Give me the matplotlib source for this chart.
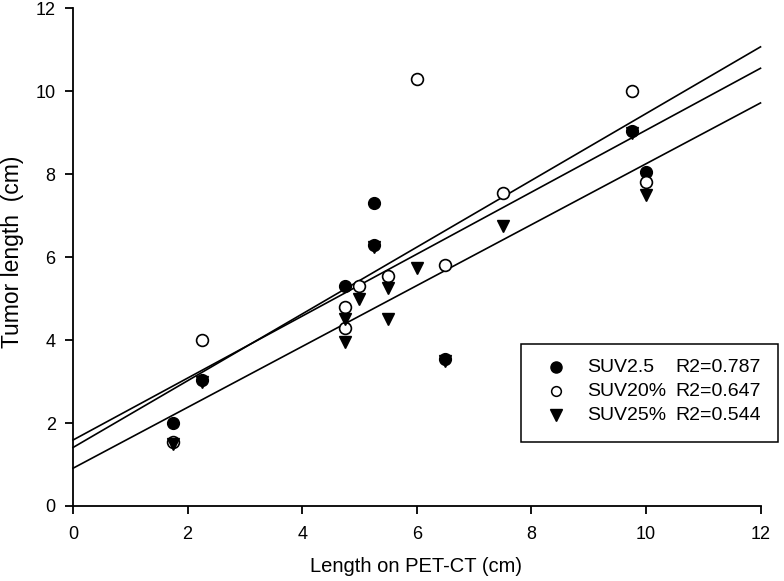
import matplotlib
matplotlib.use("Agg")
import matplotlib.pyplot as plt
from matplotlib.lines import Line2D
from matplotlib.patches import Rectangle
import numpy as np

plt.rcParams['font.family'] = ['Liberation Sans', 'DejaVu Sans']

# SUV2.5 (filled circles)
suv25_x = [1.75, 2.25, 4.75, 5.25, 5.25, 6.5, 9.75, 10.0]
suv25_y = [2.0, 3.05, 5.3, 7.3, 6.3, 3.55, 9.05, 8.05]
# SUV20% (open circles)
suv20p_x = [1.75, 2.25, 4.75, 4.75, 5.0, 5.5, 6.0, 6.5, 7.5, 9.75, 10.0]
suv20p_y = [1.55, 4.0, 4.8, 4.3, 5.3, 5.55, 10.3, 5.8, 7.55, 10.0, 7.8]
# SUV25% (filled down-triangles)
suv25p_x = [1.75, 2.25, 4.75, 4.75, 5.0, 5.25, 5.5, 5.5, 6.0, 6.5, 7.5, 9.75, 10.0]
suv25p_y = [1.5, 3.0, 4.5, 3.95, 5.0, 6.25, 5.25, 4.5, 5.75, 3.5, 6.75, 9.0, 7.5]

# regression lines (intercept, slope)
line_intercepts = [1.59, 1.41, 0.91]
line_slopes = [0.747, 0.805, 0.734]
line_xrange = [0, 12]

series_names = ["SUV2.5", "SUV20%", "SUV25%"]
r2_labels = ["R2=0.787", "R2=0.647", "R2=0.544"]

xticks = [0, 2, 4, 6, 8, 10, 12]
yticks = [0, 2, 4, 6, 8, 10, 12]

W, H = 784, 581
fig = plt.figure(figsize=(W / 100, H / 100), dpi=100)
ax = fig.add_axes([73 / W, 1 - 506 / H, (760.5 - 73) / W, (506 - 8.3) / H])

xs = np.array(line_xrange, dtype=float)
for b, m in zip(line_intercepts, line_slopes):
    ax.plot(xs, b + m * xs, color='black', lw=1.2, zorder=2, clip_on=False)

ax.plot(suv25_x, suv25_y, 'o', ms=8.5, mfc='black', mec='black', zorder=3, clip_on=False)
ax.plot(suv20p_x, suv20p_y, 'o', ms=8.5, mfc='white', mec='black', mew=1.2, zorder=4, clip_on=False)
ax.plot(suv25p_x, suv25p_y, 'v', ms=9, mfc='black', mec='black', zorder=5, clip_on=False)

ax.set_xlim(0, 12)
ax.set_ylim(0, 12)
ax.set_xticks(xticks)
ax.set_yticks(yticks)
ax.set_xticklabels([str(t) for t in xticks])
ax.set_yticklabels([str(t) for t in yticks])
for s in ['top', 'right']:
    ax.spines[s].set_visible(False)
for s in ['left', 'bottom']:
    ax.spines[s].set_linewidth(1.3)
ax.tick_params(axis='both', direction='out', length=5.5, width=1.3, labelsize=13)
ax.tick_params(axis='x', pad=9)
ax.tick_params(axis='y', pad=7)

fig.text(416.5 / W, 1 - 567 / H, "Length on PET-CT (cm)", ha='center', va='center', fontsize=14.5)
fig.text(13 / W, 1 - 252 / H, "Tumor length  (cm)", ha='center', va='center', fontsize=16.5, rotation=90)

# legend drawn manually in figure pixel coordinates
def fx(px):
    return px / W
def fy(py):
    return 1 - py / H

fig.patches.append(Rectangle((fx(520.7), fy(441.7)), (778.3 - 520.7) / W, (441.7 - 344) / H,
                             transform=fig.transFigure, fill=False, ec='black', lw=1.1))
rows = [367, 391, 415]
styles = [dict(marker='o', ms=8, mfc='black', mec='black'),
          dict(marker='o', ms=7, mfc='white', mec='black', mew=1.1),
          dict(marker='v', ms=9, mfc='black', mec='black')]
for ry, st, name, r2 in zip(rows, styles, series_names, r2_labels):
    fig.lines.append(Line2D([fx(556)], [fy(ry)], transform=fig.transFigure, ls='none', **st))
    fig.text(fx(587), fy(ry), name, ha='left', va='center', fontsize=14)
    fig.text(fx(675), fy(ry), r2, ha='left', va='center', fontsize=14)

fig.savefig("out.png", dpi=100)
